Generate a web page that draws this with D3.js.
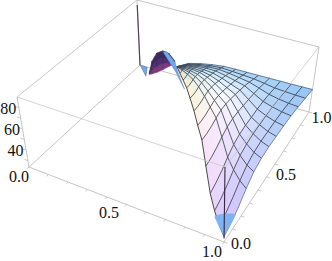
<!DOCTYPE html>
<html><head><meta charset="utf-8">
<script src="https://cdn.jsdelivr.net/npm/d3@7/dist/d3.min.js"></script>
<style>html,body{margin:0;padding:0;background:#fff}svg{display:block}</style>
</head><body><svg id="c" width="332" height="261"></svg>
<script>
// Surface sheet: x per mesh row, y and z per mesh row and column
const sheetX=[1,.948,.895,.843,.79,.738,.685,.633,.58,.528,.475,.423,.37];
const sheetY=[
[0,.083,.167,.25,.333,.417,.5,.583,.667,.75,.833,.917,1],
[.063,.139,.215,.292,.368,.444,.521,.597,.674,.75,.826,.903,.979],
[.125,.194,.264,.333,.403,.472,.542,.611,.681,.75,.819,.889,.958],
[.188,.25,.313,.375,.438,.5,.563,.625,.688,.75,.813,.875,.938],
[.25,.306,.361,.417,.472,.528,.583,.639,.694,.75,.806,.861,.917],
[.313,.361,.41,.458,.507,.556,.604,.653,.701,.75,.799,.847,.896],
[.375,.417,.458,.5,.542,.583,.625,.667,.708,.75,.792,.833,.875],
[.438,.472,.507,.542,.576,.611,.646,.681,.715,.75,.785,.819,.854],
[.5,.528,.556,.583,.611,.639,.667,.694,.722,.75,.778,.806,.833],
[.563,.583,.604,.625,.646,.667,.688,.708,.729,.75,.771,.792,.813],
[.625,.639,.653,.667,.681,.694,.708,.722,.736,.75,.764,.778,.792],
[.688,.694,.701,.708,.715,.722,.729,.736,.743,.75,.757,.764,.771],
[.75,.75,.75,.75,.75,.75,.75,.75,.75,.75,.75,.75,.75]];
const sheetZ=[
[28.8,31.6,36.4,43.1,48.8,51.6,52.6,52.5,52.5,52.1,50.7,48.7,46.8],
[27.8,30.8,35.7,42.3,47.9,50.9,52.4,52.7,53.1,53.2,52.4,51,49.7],
[30.7,33.6,38.2,44.4,49.7,52.5,54,54.5,55,55.3,54.7,53.6,52.6],
[36,38.7,42.7,48.3,52.9,55.6,56.8,57.2,57.8,57.9,57.4,56.3,55.4],
[50.8,52.3,55.2,59.2,62.6,64.1,64.5,64,63.6,62.9,61.7,60,58.3],
[64.9,65.4,67,69.7,71.8,72.2,71.6,70.4,69.2,67.8,65.7,63.4,61.1],
[68.7,69,70.2,72.4,74.2,74.4,73.8,72.6,71.4,70.1,68.3,66.1,64],
[72.6,72.6,73.5,75.3,76.5,76.6,76,74.7,73.6,72.3,70.7,68.7,66.8],
[74.9,74.8,75.4,76.9,77.8,77.7,77.1,76.1,75.1,74.1,72.7,71,69.4],
[75.2,75.1,75.6,76.6,77.2,77.1,76.7,75.8,75,74.2,73.1,71.9,70.6],
[73.2,73.3,73.7,74.4,74.8,75,74.8,74.3,74,73.4,72.8,72,71.3],
[70.1,70.3,70.7,71.2,71.6,71.8,71.8,71.8,71.8,71.7,71.5,71.3,71.1],
[67.3,67.3,67.3,67.3,67.3,67.3,67.3,67.3,67.3,67.3,67.3,67.3,67.3]];
// Which rows and columns of the sheet carry a mesh line
const meshRows=[1,2,3,4,5,6,7,8,9,10,11];
const meshCols=[3,4,5,6,7,8,9,10,11];
// Lit surface shade along the ridge, middle and back edge of the sheet
const ridgeShade=['#d4bcfb','#dcc4fb','#e8cffb','#f3d6fb','#f9dffa','#fce9f1','#fef0e2','#fff2d6','#fff1cf','#ffeec8','#fde8c2','#f5dcc0','#b9c9e0'];
const midShade=['#b8ccfb','#c4d0fc','#d2dafd','#e4e6fe','#f0f2ff','#f6fbff','#f0faff','#e4f6fe','#d4f0fc','#c0e6fb','#a8daf8','#93c9f3','#78b3ea'];
const arcShade=['#86bff3','#8ac3f4','#8ec6f5','#91c9f6','#94cbf6','#95ccf6','#96cdf6','#95ccf6','#92caf5','#8dc5f3','#85bdf0','#7ab3eb','#6ea8e6'];
// Purple hump behind the ridge
const humpX=[.101,.131,.181,.241,.3,.35];
const humpY=[.93,.911,.878,.837,.797,.764];
const humpTop=[28.6,43.5,57.7,67.2,71.7,70.7];
const humpUpper=[28,39,51,60.5,66,69.5];
const humpLower=[27.2,35,44.5,54.5,62.5,68.5];
const humpBottom=[26.5,30.8,38.4,48.5,59,67.7];
const humpShade=['#3a2a5e','#4f2f72','#7c3a82'];
// Blue crescent on the back of the fold
const bandX=[.28,.35,.4,.496,.449,.36,.3,.241];
const bandY=[.81,.764,.712,.6,.656,.757,.797,.837];
const bandZ=[71.2,69.7,66,68.4,65,60.8,63.6,66.2];
// Blue facet next to the spike
const facetX=[0,.08,.1];
const facetY=[1,.945,.9];
const facetZ=[24,31,28];
// Blue cap at the front tip
const capX=[1,.893,.92,.95,.98,1];
const capY=[0,.127,.12,.12,.13,.14];
const capZ=[28.8,25,29.5,32.4,33.2,32.6];
// Spike at the back corner
const spikeX=[0,0];const spikeY=[1,1];const spikeZ=[24,85];
// Axes
const horizTicks=d3.range(0,1.01,.1);
const zTicks=[30,40,50,60,70,80];
const zLabels=[40,60,80];
const xLabels=[0,.5,1];
const yLabels=[0,.5,1];
const xLabelShift=[[-10,10],[-17.5,8.5],[-12,10]];
const yLabelShift=[[17,2],[19.5,-2],[12.5,6]];

const zNorm=d3.scaleLinear().domain([24,90]).range([0,1]);
const lerp=(a,b,t)=>d3.scaleLinear().domain([0,1]).range([a,b])(t);
const floor={a:[29,167],b:[224,242],c:[140,65],d:[309,112]};
const roof={a:[17,97],b:[225,167],c:[137,0],d:[319,47]};
function bil(f,x,y,i){return lerp(lerp(f.a[i],f.b[i],x),lerp(f.c[i],f.d[i],x),y);}
function project(x,y,z){const t=zNorm(z);
 return [lerp(bil(floor,x,y,0),bil(roof,x,y,0),t),lerp(bil(floor,x,y,1),bil(roof,x,y,1),t)];}
const svg=d3.select('#c');
const line=d3.line();
const G='#c6c6c6';
// Box
const hi=90,lo=24;
const back=[[[0,0,lo],[0,1,lo]],[[0,1,lo],[1,1,lo]],[[0,0,hi],[0,1,hi]],[[0,1,hi],[1,1,hi]],[[0,1,lo],[0,1,hi]],[[1,1,lo],[1,1,hi]],[[0,0,lo],[0,0,hi]],[[0,0,lo],[1,0,lo]],[[1,0,lo],[1,1,lo]]];
const front=[[[0,0,hi],[1,0,hi]],[[1,0,hi],[1,1,hi]]];
function seg(g,list,col,w){g.selectAll(null).data(list).join('path').attr('d',d=>line(d.map(p=>project(...p)))).attr('fill','none').attr('stroke',col).attr('stroke-width',w);}
seg(svg.append('g'),back,G,1);
const tk=svg.append('g');
const tickSeg=[];
horizTicks.forEach(v=>{tickSeg.push([[v,0,lo],[v,-.018,lo]]);tickSeg.push([[1,v,lo],[1.018,v,lo]]);});
zTicks.forEach(v=>tickSeg.push([[0,0,v],[-.018,0,v]]));
seg(tk,tickSeg,'#bdbdbd',.8);
// Spike
svg.append('path').attr('d',line(spikeX.map((x,i)=>project(x,spikeY[i],spikeZ[i])))).attr('stroke','#55405a').attr('stroke-width',1.2).attr('fill','none');
// Hump
const rows=[humpTop,humpUpper,humpLower,humpBottom];
const hg=svg.append('g');
for(let r=0;r<3;r++)for(let i=0;i<5;i++){
 const pts=[[i,r],[i+1,r],[i+1,r+1],[i,r+1]].map(([c,q])=>project(humpX[c],humpY[c],rows[q][c]));
 hg.append('path').attr('d',line(pts)+'Z').attr('fill',humpShade[r]).attr('stroke',humpShade[r]).attr('stroke-width',.5);
}
rows.slice(1,3).forEach(row=>hg.append('path').attr('d',line(row.map((z,c)=>project(humpX[c],humpY[c],z)))).attr('fill','none').attr('stroke','#2c1c3c').attr('stroke-width',.5).attr('opacity',.6));
humpX.forEach((x,c)=>hg.append('path').attr('d',line(rows.map(row=>project(x,humpY[c],row[c])))).attr('fill','none').attr('stroke','#2c1c3c').attr('stroke-width',.5).attr('opacity',.6));
svg.append('path').attr('d',line(facetX.map((x,i)=>project(x,facetY[i],facetZ[i])))+'Z').attr('fill','#6ea8ee').attr('stroke','#55506f').attr('stroke-width',.4);
// Sheet
const shade=(k,t)=>t<.5?d3.interpolateRgb(ridgeShade[k],midShade[k])(t*2):d3.interpolateRgb(midShade[k],arcShade[k])(t*2-1);
const P=(k,j)=>project(sheetX[k],sheetY[k][j],sheetZ[k][j]);
const cells=svg.append('g').attr('opacity',.88);
for(let k=0;k<12;k++)for(let j=0;j<12;j++){
 const col=shade(k,(j+.5)/12);
 cells.append('path').attr('d',line([P(k,j),P(k,j+1),P(k+1,j+1),P(k+1,j)])+'Z').attr('fill',col).attr('stroke',col).attr('stroke-width',.6);
}
const mesh=svg.append('g').attr('fill','none').attr('stroke','#2b2b33').attr('stroke-width',.9).attr('opacity',.82);
meshRows.forEach(k=>mesh.append('path').attr('d',line(d3.range(13).map(j=>P(k,j)))));
meshCols.forEach(j=>mesh.append('path').attr('d',line(d3.range(13).map(k=>P(k,j)))));
svg.append('path').attr('d',line(d3.range(13).map(k=>P(k,0)))).attr('fill','none').attr('stroke','#3a3a3a').attr('stroke-width',.9);
svg.append('path').attr('d',line(d3.range(13).map(k=>P(k,12)))).attr('fill','none').attr('stroke','#44546a').attr('stroke-width',.7);
svg.append('path').attr('d',line(d3.range(13).map(j=>P(0,j)))).attr('fill','none').attr('stroke','#55658a').attr('stroke-width',.7);
// Crescent and cap
svg.append('path').attr('d',d3.line().curve(d3.curveLinearClosed)(bandX.map((x,i)=>project(x,bandY[i],bandZ[i])))).attr('fill','#6fa8ee').attr('stroke','#4f6a9a').attr('stroke-width',.4);
svg.append('path').attr('d',d3.line().curve(d3.curveLinearClosed)(capX.map((x,i)=>project(x,capY[i],capZ[i])))).attr('fill','#7db2f5');
// Front edges
seg(svg.append('g').attr('opacity',.75),front,G,1);
seg(svg.append('g'),[[[1,0,lo+3],[1,0,hi]]],'#33283f',1.1);
// Labels
const T=svg.append('g');
function label(p,dx,dy,s){T.append('text').attr('x',p[0]+dx).attr('y',p[1]+dy).attr('text-anchor','middle').attr('dy','.33em').style('font-family',"'Liberation Serif','Times New Roman','DejaVu Serif',serif").style('font-size','16px').style('fill','#111').text(s);}
xLabels.forEach((v,i)=>label(project(v,0,lo),xLabelShift[i][0],xLabelShift[i][1],d3.format('.1f')(v)));
yLabels.forEach((v,i)=>label(project(1,v,lo),yLabelShift[i][0],yLabelShift[i][1],d3.format('.1f')(v)));
zLabels.forEach(v=>label(project(0,0,v),-10.5,1,String(v)));
</script></body></html>
